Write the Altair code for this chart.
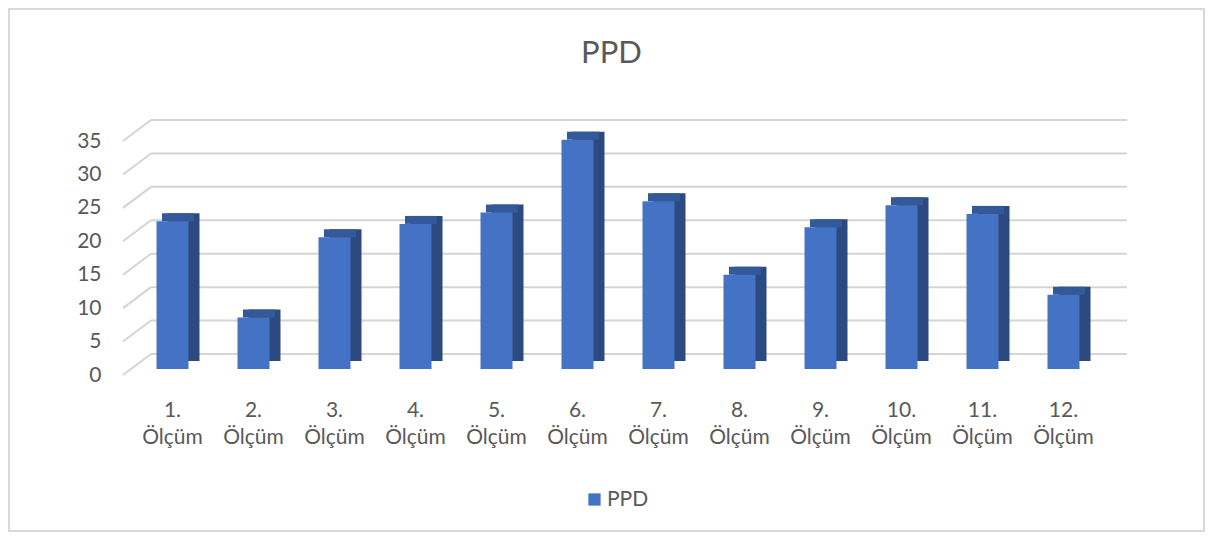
import altair as alt
import pandas as pd

categories = ["1. Ölçüm", "2. Ölçüm", "3. Ölçüm", "4. Ölçüm", "5. Ölçüm", "6. Ölçüm",
              "7. Ölçüm", "8. Ölçüm", "9. Ölçüm", "10. Ölçüm", "11. Ölçüm", "12. Ölçüm"]
values = [22.1, 7.7, 19.7, 21.7, 23.4, 34.3, 25.1, 14.1, 21.2, 24.5, 23.2, 11.1]
series_name = "PPD"
chart_title = "PPD"
tick_values = [0, 5, 10, 15, 20, 25, 30, 35]

df = pd.DataFrame({"cat": categories, "v": values, "series": [series_name] * len(values)})
ticks = pd.DataFrame({"t": tick_values})
title_df = pd.DataFrame({"title": [chart_title]})

FONT = "Lato"
TXT = "#595959"
GRID = "#D4D4D4"
W, H = 972, 234
DX, DY = 11, -8
BACK = -15

yscale = alt.Scale(domain=[0, 35], nice=False, zero=True)
yaxis = alt.Axis(values=tick_values, domain=False, ticks=False, grid=False, labelPadding=31,
                 labelOffset=6, labelFontSize=21, labelColor=TXT, labelFont=FONT)
xenc = alt.X("cat:N", sort=categories, scale=alt.Scale(paddingInner=0, paddingOuter=0), title=None,
             axis=alt.Axis(labelExpr="split(datum.label, ' ')", labelAngle=0, domain=False, ticks=False,
                           labelPadding=30, labelLineHeight=27, labelFontSize=21, labelColor=TXT,
                           labelFont=FONT))

back_grid = alt.Chart(ticks).mark_rule(color=GRID, strokeWidth=2, yOffset=BACK).encode(
    y=alt.Y("t:Q", scale=yscale, axis=yaxis, title=None),
    x=alt.value(19), x2=alt.value(995))

diag = alt.Chart(ticks).mark_rule(color=GRID, strokeWidth=2, yOffset=6, y2Offset=BACK).encode(
    y=alt.Y("t:Q", scale=yscale, axis=yaxis, title=None), y2="t:Q",
    x=alt.value(-9), x2=alt.value(19))

side = alt.Chart(df).mark_bar(size=32, xOffset=DX, yOffset=DY, y2Offset=DY, color="#2C4A80").encode(
    x=xenc, y=alt.Y("v:Q", scale=yscale, axis=yaxis, title=None), y2=alt.datum(0))

top = alt.Chart(df).mark_bar(size=32, xOffset=DX / 2, yOffset=DY, y2Offset=0, color="#34599A").encode(
    x=xenc, y=alt.Y("v:Q", scale=yscale, axis=yaxis, title=None), y2="v:Q")

front = alt.Chart(df).mark_bar(size=32).encode(
    x=xenc,
    y=alt.Y("v:Q", scale=yscale, title=None, axis=yaxis),
    y2=alt.datum(0),
    color=alt.Color("series:N", scale=alt.Scale(range=["#4472C4"]), title=None,
                    legend=alt.Legend(orient="none", legendX=452, legendY=354, symbolType="square",
                                      symbolSize=150, symbolStrokeWidth=0, labelFontSize=21,
                                      labelColor=TXT, labelFont=FONT, labelOffset=2)))

border = alt.Chart(ticks).mark_rect(fillOpacity=0, stroke="#D9D9D9", strokeWidth=1.5).encode(
    x=alt.value(-123), x2=alt.value(1072), y=alt.value(-126), y2=alt.value(396))

title = alt.Chart(title_df).mark_text(font=FONT, fontSize=31, color=TXT, align="center",
                                      baseline="alphabetic").encode(
    x=alt.value(479.5), y=alt.value(-72), text="title:N")

chart = alt.layer(border, title, back_grid, diag, side, top, front).properties(
    width=W, height=H,
    autosize=alt.AutoSizeParams(type="none"),
    padding={"left": 124, "top": 127, "right": 103, "bottom": 166},
).configure_view(stroke=None)

chart.save("out.html", embed_options={"renderer": "svg", "actions": False})
